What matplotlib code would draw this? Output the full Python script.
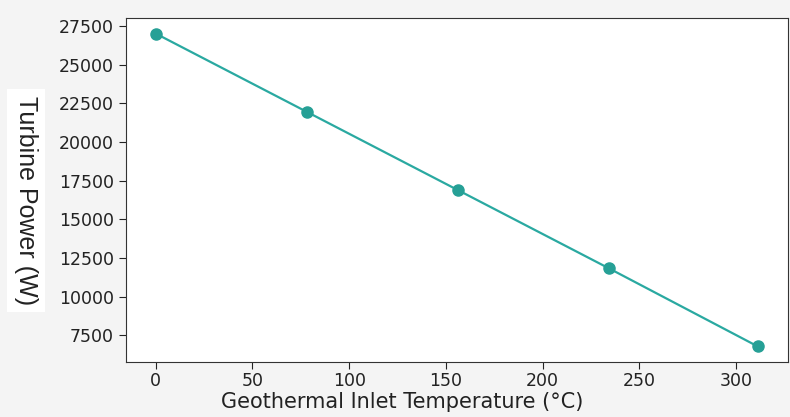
import matplotlib
matplotlib.use("Agg")
import matplotlib.pyplot as plt

# geothermal inlet temperature (C) vs turbine power (W)
temp = [0, 78, 156, 234, 311]
power = [27000, 21950, 16900, 11850, 6800]
yticks = [7500, 10000, 12500, 15000, 17500, 20000, 22500, 25000, 27500]

fig = plt.figure(figsize=(7.9, 4.17), dpi=100, facecolor='#f4f4f4')
ax = fig.add_axes([0.159, 0.132, 0.838, 0.825])
ax.set_facecolor('white')

ax.plot(temp, power, color='#2aa9a1', linewidth=1.6, marker='o', markersize=8,
        markerfacecolor='#26a096', markeredgecolor='#26a096')

ax.set_yticks(yticks)
ax.tick_params(axis='both', labelsize=12.5, colors='#222222', length=5)
ax.tick_params(axis='x', pad=2)
for s in ax.spines.values():
    s.set_color('#333333')

fig.text(0.509, 0.035, 'Geothermal Inlet Temperature (°C)', ha='center', va='center',
         fontsize=15, color='#222222')
fig.text(0.033, 0.52, 'Turbine Power (W)', rotation=270, va='center', ha='center',
         fontsize=18, color='#222222',
         family=['Liberation Sans Narrow', 'Liberation Sans', 'DejaVu Sans'],
         bbox=dict(facecolor='white', edgecolor='none', pad=5))

fig.savefig('out.png', dpi=100, facecolor=fig.get_facecolor())
